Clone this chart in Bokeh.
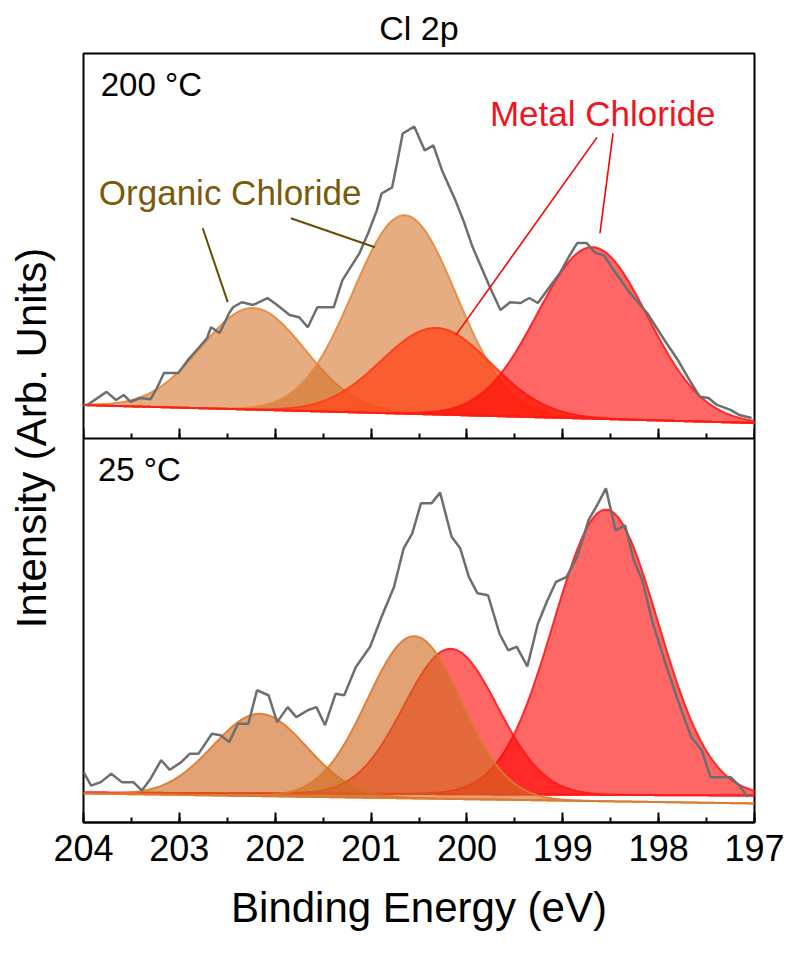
import numpy as np
from bokeh.plotting import figure
from bokeh.models import (Range1d, LinearAxis, SingleIntervalTicker, FixedTicker,
                          Label, CustomJSTickFormatter, ColumnDataSource, Title)
from bokeh.embed import file_html
from bokeh.resources import INLINE

FONT = "Liberation Sans"

# ---------------- data ----------------
# Binding energy (eV) and raw intensity (arb. units), 200 °C spectrum
be_200 = [203.96, 203.76, 203.66, 203.58, 203.51, 203.41, 203.30, 203.24, 203.16, 203.01,
          202.91, 202.80, 202.71, 202.67, 202.58, 202.48, 202.44, 202.35, 202.23, 202.08,
          201.98, 201.85, 201.75, 201.66, 201.56, 201.39, 201.30, 201.12, 201.03, 200.94,
          200.89, 200.78, 200.73, 200.67, 200.55, 200.44, 200.35, 200.26, 200.12, 200.03,
          199.94, 199.85, 199.76, 199.65, 199.55, 199.44, 199.35, 199.26, 199.14, 199.03,
          198.94, 198.85, 198.75, 198.66, 198.57, 198.49, 198.30, 198.12, 197.94, 197.80,
          197.66, 197.57, 197.48, 197.39, 197.25, 197.16, 197.03]
int_200 = [8.6, 12.0, 9.9, 11.2, 9.4, 10.4, 10.1, 12.7, 16.9, 16.9,
           20.3, 23.4, 26.0, 28.8, 27.3, 32.5, 34.0, 35.3, 34.6, 36.4,
           34.6, 32.0, 31.4, 28.8, 34.0, 34.0, 41.0, 48.1, 53.3, 59.2,
           63.6, 65.2, 71.4, 79.2, 81.0, 74.8, 76.1, 69.6, 61.8, 56.1,
           49.6, 44.4, 39.2, 33.3, 35.3, 35.1, 36.4, 35.1, 39.2, 42.9,
           47.0, 50.7, 50.7, 48.1, 47.5, 44.4, 37.7, 32.5, 25.5, 20.3,
           14.3, 10.7, 10.4, 8.6, 7.3, 6.0, 5.2]

# 25 °C spectrum
be_25 = [204.00, 203.92, 203.82, 203.71, 203.60, 203.48, 203.39, 203.30, 203.19, 203.10,
         202.98, 202.89, 202.80, 202.66, 202.57, 202.48, 202.39, 202.28, 202.19, 202.07,
         201.98, 201.87, 201.78, 201.66, 201.57, 201.48, 201.37, 201.28, 201.16, 201.01,
         200.89, 200.76, 200.66, 200.57, 200.48, 200.37, 200.28, 200.16, 200.07, 199.98,
         199.89, 199.78, 199.66, 199.57, 199.48, 199.37, 199.26, 199.16, 199.07, 198.96,
         198.85, 198.73, 198.64, 198.55, 198.45, 198.35, 198.26, 198.17, 198.07, 197.94,
         197.80, 197.66, 197.55, 197.46, 197.25, 197.16, 197.07]
int_25 = [13.1, 9.6, 10.5, 12.7, 10.5, 10.5, 8.3, 11.4, 16.2, 13.7,
          15.7, 17.9, 17.9, 23.1, 22.7, 20.9, 25.7, 25.7, 34.4, 33.1,
          26.1, 30.0, 27.4, 29.2, 30.0, 25.3, 33.5, 33.1, 40.4, 45.7,
          53.5, 61.3, 71.3, 75.2, 83.0, 83.0, 85.8, 74.3, 71.3, 63.9,
          59.6, 59.1, 49.1, 44.8, 45.7, 40.6, 51.7, 57.8, 62.6, 63.9,
          69.1, 78.7, 82.6, 86.9, 76.0, 77.3, 68.2, 63.0, 52.6, 42.2,
          31.8, 22.2, 18.8, 11.8, 11.8, 9.6, 6.6]

# Fitted components: organic 2p1/2, organic 2p3/2, metal 2p1/2, metal 2p3/2
comp_kind = ["organic", "organic", "metal", "metal"]
center_200 = [202.23, 200.65, 200.32, 198.69]
height_200 = [26.4, 51.6, 22.5, 44.6]
fwhm_200 = [1.27, 1.27, 1.35, 1.35]
center_25 = [202.16, 200.55, 200.17, 198.55]
height_25 = [21.4, 42.2, 37.8, 74.2]
fwhm_25 = [1.15, 1.15, 1.15, 1.28]
# linear backgrounds: value at 204 eV, value at 197 eV
bg_200 = {"organic": [8.57, 3.90], "metal": [8.57, 3.90]}
bg_25 = {"organic": [7.55, 4.95], "metal": [7.8, 7.0]}

# annotation pointer lines (200 °C panel): x0, y0, x1, y1
org_ptr_x0 = [202.756, 201.837]
org_ptr_y0 = [54.55, 57.14]
org_ptr_x1 = [202.495, 200.960]
org_ptr_y1 = [35.32, 49.61]
met_ptr_x0 = [198.643, 198.476]
met_ptr_y0 = [78.18, 79.22]
met_ptr_x1 = [200.115, 198.612]
met_ptr_y1 = [26.75, 53.25]

X_HI, X_LO = 204.0, 197.0

# ---------------- figure ----------------
p = figure(width=784, height=937, output_backend="svg", toolbar_location=None,
           x_range=Range1d(X_HI, X_LO), y_range=Range1d(0, 200),
           min_border_left=83, min_border_right=30, min_border_top=53,
           min_border_bottom=115, title=None)
p.add_layout(Title(text="Cl 2p", align="center", text_font=FONT, text_font_size="34px",
                   text_font_style="normal", text_color="black", standoff=13), "above")
p.extra_y_ranges = {"top": Range1d(-100, 100)}
p.grid.visible = False
p.outline_line_color = "black"
p.outline_line_width = 2

xa = p.xaxis[0]
xa.ticker = SingleIntervalTicker(interval=1, num_minor_ticks=2)
xa.major_tick_in = 10
xa.major_tick_out = 0
xa.minor_tick_in = 5
xa.minor_tick_out = 0
xa.axis_line_width = 2
xa.major_tick_line_width = 2
xa.minor_tick_line_width = 2
xa.major_label_text_font = FONT
xa.major_label_text_font_size = "36px"
xa.major_label_text_color = "black"
xa.major_label_standoff = 12
xa.axis_label = "Binding Energy (eV)"
xa.axis_label_text_font = FONT
xa.axis_label_text_font_size = "42px"
xa.axis_label_text_font_style = "normal"
xa.axis_label_text_color = "black"
xa.axis_label_standoff = 20

mid = LinearAxis(fixed_location=100,
                 ticker=SingleIntervalTicker(interval=1, num_minor_ticks=2),
                 formatter=CustomJSTickFormatter(code="return ''"),
                 major_tick_in=10, major_tick_out=0, minor_tick_in=5, minor_tick_out=0,
                 axis_line_width=2, major_tick_line_width=2, minor_tick_line_width=2,
                 major_label_text_font_size="0px")
p.add_layout(mid, "below")

ya = p.yaxis[0]
ya.ticker = FixedTicker(ticks=[])
ya.axis_line_color = None
ya.major_tick_line_color = None
ya.minor_tick_line_color = None
ya.major_label_standoff = 0
ya.axis_label = "Intensity (Arb. Units)"
ya.axis_label_text_font = FONT
ya.axis_label_text_font_size = "42px"
ya.axis_label_text_font_style = "normal"
ya.axis_label_text_color = "black"
ya.axis_label_standoff = 29

grid_be = np.linspace(X_HI, X_LO, 500)


def background(pair):
    return pair[0] + (pair[1] - pair[0]) * (X_HI - grid_be) / (X_HI - X_LO)


def component(c, h, w):
    return h * np.exp(-4 * np.log(2) * ((grid_be - c) / w) ** 2)


def draw_panel(centers, heights, fwhms, bgs, order, styles, yname):
    for i in order:
        kind = comp_kind[i]
        bg = background(bgs[kind])
        top = bg + component(centers[i], heights[i], fwhms[i])
        xs = np.concatenate([grid_be, grid_be[::-1]])
        ys = np.concatenate([top, bg[::-1]])
        st = styles[i]
        kw = {} if yname is None else {"y_range_name": yname}
        p.patch(xs, ys, fill_color=st[0], fill_alpha=st[1], line_color=st[2],
                line_width=2, line_alpha=0.9, **kw)


styles_200 = [("#d2691e", 0.55, "#e8873c"), ("#d2691e", 0.55, "#e8873c"),
              ("#ff4a1c", 0.80, "#ff3a1a"), ("#ff0000", 0.60, "#ff1a1a")]
styles_25 = [("#d2691e", 0.62, "#dd7a30"), ("#d2691e", 0.62, "#dd7a30"),
             ("#ff0000", 0.60, "#ff1a1a"), ("#ff0000", 0.60, "#ff1a1a")]

draw_panel(center_200, height_200, fwhm_200, bg_200, [0, 1, 2, 3], styles_200, "top")
draw_panel(center_25, height_25, fwhm_25, bg_25, [3, 2, 0, 1], styles_25, None)

src200 = ColumnDataSource(dict(x=be_200, y=int_200))
src25 = ColumnDataSource(dict(x=be_25, y=int_25))
p.line("x", "y", source=src200, y_range_name="top", line_color="#6e6e6e", line_width=2.5)
p.line("x", "y", source=src25, line_color="#6e6e6e", line_width=2.5)

# pointer lines
p.segment(org_ptr_x0, org_ptr_y0, org_ptr_x1, org_ptr_y1, y_range_name="top",
          line_color="#6b4a00", line_width=2)
p.segment(met_ptr_x0, met_ptr_y0, met_ptr_x1, met_ptr_y1, y_range_name="top",
          line_color="#ff0000", line_width=1.6)

# labels
p.add_layout(Label(x=203.82, y=91.9, y_range_name="top", text="200 °C",
                   text_font=FONT, text_font_size="33px", text_baseline="middle",
                   text_color="black"))
p.add_layout(Label(x=203.85, y=91.7, text="25 °C",
                   text_font=FONT, text_font_size="33px", text_baseline="middle",
                   text_color="black"))
p.add_layout(Label(x=203.84, y=63.8, y_range_name="top", text="Organic Chloride",
                   text_font=FONT, text_font_size="35px", text_baseline="middle",
                   text_color="#7b5a0a"))
p.add_layout(Label(x=199.76, y=84.5, y_range_name="top", text="Metal Chloride",
                   text_font=FONT, text_font_size="35px", text_baseline="middle",
                   text_color="#f0141e"))

open("out.html", "w").write(file_html(p, INLINE))
